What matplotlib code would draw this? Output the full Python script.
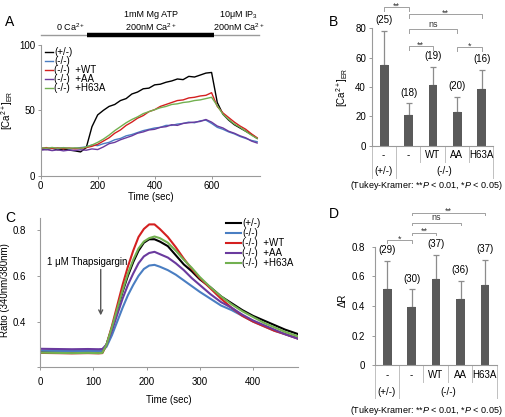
import matplotlib
matplotlib.use("Agg")
import matplotlib.pyplot as plt
import matplotlib.transforms as mtransforms

plt.rcParams["font.family"] = ["Liberation Sans", "DejaVu Sans"]
plt.rcParams["mathtext.fontset"] = "custom"
plt.rcParams["mathtext.rm"] = "Liberation Sans"
plt.rcParams["mathtext.it"] = "Liberation Sans:italic"
plt.rcParams["font.size"] = 7

# ---- panel A: ER calcium traces (sampled every 20 s) ----
time_a = list(range(0, 761, 20))
black_a = [20.5, 20.0, 21.0, 19.8, 20.4, 19.6, 19.0, 18.2, 21.5, 37.5,
           46.5, 50.0, 53.0, 54.5, 57.5, 59.0, 62.5, 64.0, 66.5, 67.0,
           69.5, 70.0, 71.5, 72.5, 74.0, 73.5, 76.0, 75.5, 77.0, 78.5,
           79.0, 56.0, 47.0, 42.5, 39.0, 36.5, 34.0, 31.5, 28.5]
blue_a = [21.0, 20.5, 21.2, 20.8, 21.5, 20.7, 21.0, 21.5, 22.0, 23.5,
          23.0, 24.5, 25.5, 27.5, 28.5, 30.5, 31.5, 33.0, 34.5, 35.5,
          36.5, 37.0, 38.5, 38.5, 39.5, 40.0, 41.0, 40.5, 42.0, 42.5,
          40.0, 37.0, 35.5, 33.5, 32.0, 30.0, 28.5, 27.0, 26.0]
red_a = [21.0, 21.5, 20.8, 21.3, 20.6, 21.2, 20.5, 21.0, 21.5, 22.5,
         24.0, 26.5, 29.0, 32.5, 35.0, 38.5, 41.0, 44.0, 46.0, 49.0,
         50.5, 53.0, 54.5, 56.0, 57.5, 58.0, 59.5, 60.0, 61.0, 61.5,
         63.5, 53.0, 48.0, 44.5, 41.0, 38.0, 35.5, 32.0, 29.0]
purple_a = [19.5, 20.0, 19.2, 19.8, 19.0, 19.6, 19.3, 19.8, 19.5, 20.5,
            20.0, 22.0, 24.5, 25.5, 27.5, 29.0, 30.5, 32.5, 33.5, 35.0,
            35.5, 37.0, 37.5, 39.0, 38.5, 40.0, 40.5, 41.0, 41.5, 43.0,
            41.0, 38.0, 36.5, 34.0, 32.5, 30.5, 29.0, 26.5, 25.0]
green_a = [21.5, 21.0, 21.6, 21.0, 21.4, 21.0, 21.3, 21.0, 22.0, 23.5,
           25.5, 28.0, 31.0, 34.5, 37.5, 40.5, 43.0, 45.0, 47.5, 49.0,
           50.5, 52.0, 53.0, 54.5, 55.0, 56.0, 56.5, 57.5, 58.0, 59.0,
           60.0, 53.5, 47.0, 43.0, 39.5, 37.0, 34.0, 31.0, 28.5]

# ---- panel C: Fura-2 ratio traces ----
time_c = [0, 30, 60, 90, 110, 117, 125, 135, 145, 155, 165, 175, 185, 195,
          205, 215, 225, 240, 255, 270, 285, 300, 320, 340, 360, 380, 400,
          420, 440, 460, 485]
black_c = [0.266, 0.265, 0.264, 0.265, 0.264, 0.265, 0.30, 0.37, 0.45, 0.53,
           0.60, 0.66, 0.71, 0.745, 0.76, 0.76, 0.75, 0.73, 0.69, 0.65,
           0.62, 0.585, 0.55, 0.51, 0.48, 0.45, 0.425, 0.405, 0.385, 0.365, 0.345]
blue_c = [0.273, 0.272, 0.271, 0.272, 0.271, 0.272, 0.29, 0.34, 0.40, 0.46,
          0.515, 0.56, 0.60, 0.63, 0.645, 0.648, 0.64, 0.625, 0.605, 0.58,
          0.555, 0.53, 0.50, 0.47, 0.45, 0.425, 0.40, 0.38, 0.36, 0.345, 0.325]
red_c = [0.263, 0.262, 0.261, 0.262, 0.261, 0.262, 0.30, 0.38, 0.47, 0.56,
         0.64, 0.71, 0.77, 0.805, 0.825, 0.825, 0.805, 0.77, 0.725, 0.675,
         0.63, 0.59, 0.545, 0.50, 0.46, 0.425, 0.40, 0.38, 0.36, 0.345, 0.325]
purple_c = [0.281, 0.280, 0.279, 0.280, 0.279, 0.280, 0.30, 0.36, 0.43, 0.50,
            0.56, 0.61, 0.655, 0.685, 0.70, 0.705, 0.695, 0.68, 0.655, 0.625,
            0.59, 0.56, 0.52, 0.485, 0.46, 0.43, 0.405, 0.385, 0.365, 0.345, 0.325]
green_c = [0.264, 0.263, 0.262, 0.263, 0.262, 0.263, 0.30, 0.375, 0.455, 0.535,
           0.61, 0.67, 0.72, 0.75, 0.765, 0.772, 0.765, 0.745, 0.71, 0.67,
           0.635, 0.595, 0.55, 0.51, 0.475, 0.445, 0.42, 0.395, 0.375, 0.355, 0.335]

series_labels = ["(+/-)", "(-/-)", "(-/-)  +WT", "(-/-)  +AA", "(-/-)  +H63A"]
series_colors = ["#000000", "#4a7ec2", "#d42020", "#6a3a9e", "#72b050"]

# ---- panels B and D: bar summaries ----
bar_labels = ["-", "-", "WT", "AA", "H63A"]
genotype_groups = [("(+/-)", 0, 1), ("(-/-)", 1, 5)]

ca_er_mean = [55.0, 20.7, 41.4, 23.2, 38.4]
ca_er_err = [23.4, 8.2, 12.5, 10.2, 13.2]
ca_er_n = [25, 18, 19, 20, 16]
ca_er_sig = [(0, 1, 94.3, "**"), (1, 4, 89.7, "**"), (1, 3, 79.3, "ns"),
             (1, 2, 67.9, "**"), (3, 4, 67.0, "*")]

dr_mean = [0.518, 0.390, 0.584, 0.444, 0.543]
dr_err = [0.187, 0.122, 0.160, 0.126, 0.167]
dr_n = [29, 30, 37, 36, 37]
dr_sig = [(1, 4, 1.03, "**"), (1, 3, 0.962, "ns"), (1, 2, 0.895, "**"),
          (0, 1, 0.845, "*")]

SPINE = "#9a9a9a"
BAR = "#5a5a5a"
W, H = 505, 417

fig = plt.figure(figsize=(W / 100, H / 100), dpi=100)


def px_axes(left, top, right, bottom):
    return fig.add_axes([left / W, 1 - bottom / H, (right - left) / W, (bottom - top) / H])


def style_axes(ax):
    for side in ["top", "right"]:
        ax.spines[side].set_visible(False)
    for side in ["left", "bottom"]:
        ax.spines[side].set_color(SPINE)
        ax.spines[side].set_linewidth(0.8)
    ax.tick_params(direction="out", length=2, width=0.7, color=SPINE, labelsize=7)


def bar_panel(ax, means, errs, counts, sigs, ymax, leg, yfmt, rows):
    style_axes(ax)
    x = [i + 0.52 for i in range(len(means))]
    ax.bar(x, means, width=0.36, color=BAR, zorder=2)
    ax.errorbar(x, means, yerr=[[0] * len(errs), errs], fmt="none",
                ecolor="#8c8c8c", elinewidth=0.9, capsize=2, capthick=0.9, zorder=1)
    for xi, m, e, n in zip(x, means, errs, counts):
        ax.annotate(f"({n})", (xi, m + e), xytext=(0, 4), textcoords="offset points",
                    ha="center", va="bottom", fontsize=7)
    for a, b, y, txt in sigs:
        ax.plot([x[a], x[a], x[b], x[b]], [y - leg, y, y, y - leg],
                color="#a0a0a0", lw=0.7, clip_on=False)
        dy = 1.8 if txt == "ns" else -1.0
        ax.annotate(txt, ((x[a] + x[b]) / 2, y), xytext=(0, dy), textcoords="offset points",
                    ha="center", va="baseline", fontsize=6.5, color="#333333",
                    annotation_clip=False)
    ax.set_xlim(0, 5)
    ax.set_ylim(0, ymax)
    ax.set_xticks([])
    ax.yaxis.set_major_formatter(plt.FuncFormatter(yfmt))

    # two-level category axis
    row1, row2, short, full = rows
    trans = mtransforms.blended_transform_factory(ax.transData, ax.transAxes)
    for i, lab in enumerate(bar_labels):
        ax.text(i + 0.5, row1, lab, transform=trans, ha="center", va="center", fontsize=7)
    for xd in range(6):
        low = full if xd in (0, 1, 5) else short
        ax.plot([xd, xd], [0, low], transform=trans, color="#c0c0c0", lw=0.7, clip_on=False)
    for lab, a, b in genotype_groups:
        ax.text((a + b) / 2, row2, lab, transform=trans, ha="center", va="center", fontsize=7)


# ---------- A ----------
ax_a = px_axes(40.7, 45, 260, 175.7)
style_axes(ax_a)
for y, lab, col in zip([black_a, blue_a, red_a, purple_a, green_a], series_labels, series_colors):
    ax_a.plot(time_a, y, color=col, lw=1.0, label=lab)
ax_a.set_xlim(0, 770)
ax_a.set_ylim(0, 100)
ax_a.set_xticks([0, 200, 400, 600])
ax_a.set_yticks([0, 50, 100])
ax_a.tick_params(pad=2)
ax_a.set_xlabel("Time (sec)", fontsize=7)
ax_a.xaxis.set_label_coords(0.5, -0.125)
ax_a.set_ylabel(r"$[\mathrm{Ca}^{2+}]_{\mathrm{ER}}$", fontsize=7)
ax_a.yaxis.set_label_coords(-0.115, 0.5)
ax_a.legend(loc="upper left", bbox_to_anchor=(0.02, 0.985), frameon=False, fontsize=7,
            handlelength=0.8, handletextpad=0.15, labelspacing=-0.1, borderaxespad=0,
            borderpad=0)

ta = mtransforms.blended_transform_factory(ax_a.transData, ax_a.transAxes)
ax_a.plot([0, 765], [1.077, 1.077], transform=ta, color=SPINE, lw=1.0, clip_on=False)
ax_a.plot([164, 610], [1.077, 1.077], transform=ta, color="black", lw=3.2,
          solid_capstyle="butt", clip_on=False)
ax_a.text(105, 1.14, r"0 Ca$^{2+}$", transform=ta, ha="center", va="center", fontsize=6.5)
ax_a.text(387, 1.23, "1mM Mg ATP", transform=ta, ha="center", va="center", fontsize=6.5)
ax_a.text(387, 1.14, r"200nM Ca$^{2+}$", transform=ta, ha="center", va="center", fontsize=6.5)
ax_a.text(695, 1.23, r"10μM IP$_3$", transform=ta, ha="center", va="center", fontsize=6.5)
ax_a.text(695, 1.14, r"200nM Ca$^{2+}$", transform=ta, ha="center", va="center", fontsize=6.5)

# ---------- B ----------
ax_b = px_axes(371.5, 28.3, 493.3, 145.7)
bar_panel(ax_b, ca_er_mean, ca_er_err, ca_er_n, ca_er_sig, 80, 2.5,
          lambda v, p: f"{v:.0f}", (-0.079, -0.215, -0.138, -0.275))
ax_b.set_yticks([0, 20, 40, 60, 80])
ax_b.tick_params(axis="y", pad=2)
ax_b.set_ylabel(r"$[\mathrm{Ca}^{2+}]_{\mathrm{ER}}$", fontsize=7)
ax_b.yaxis.set_label_coords(-0.175, 0.5)

# ---------- C ----------
ax_c = px_axes(40, 218, 298.3, 367.3)
style_axes(ax_c)
for y, lab, col in zip([black_c, blue_c, red_c, purple_c, green_c], series_labels, series_colors):
    ax_c.plot(time_c, y, color=col, lw=1.5, label=lab)
ax_c.set_xlim(0, 485)
ax_c.set_ylim(0.2, 0.853)
ax_c.set_xticks([0, 100, 200, 300, 400])
ax_c.set_yticks([0.2, 0.4, 0.6, 0.8])
ax_c.set_yticklabels(["", "0.4", "0.6", "0.8"])
ax_c.tick_params(axis="x", pad=5)
ax_c.tick_params(axis="y", pad=8)
ax_c.set_xlabel("Time (sec)", fontsize=7)
ax_c.xaxis.set_label_coords(0.5, -0.185)
ax_c.set_ylabel("Ratio (340nm/380nm)", fontsize=7)
ax_c.yaxis.set_label_coords(-0.118, 0.52)
ax_c.legend(loc="upper left", bbox_to_anchor=(0.72, 1.0), frameon=False, fontsize=7,
            handlelength=1.55, handletextpad=0.1, labelspacing=0.0, borderaxespad=0,
            borderpad=0)
ax_c.annotate("", xy=(114, 0.415), xytext=(114, 0.64),
              arrowprops=dict(arrowstyle="->", color="#555555", lw=1.0))
ax_c.text(88, 0.66, "1 μM Thapsigargin", ha="center", va="center", fontsize=7)

# ---------- D ----------
ax_d = px_axes(374.5, 246.7, 496.7, 365.3)
bar_panel(ax_d, dr_mean, dr_err, dr_n, dr_sig, 0.8, 0.018,
          lambda v, p: "0" if v == 0 else f"{v:.1f}", (-0.082, -0.222, -0.138, -0.276))
ax_d.set_yticks([0, 0.2, 0.4, 0.6, 0.8])
ax_d.tick_params(axis="y", pad=5)
ax_d.set_ylabel("ΔR", fontsize=7)
ax_d.yaxis.set_label_coords(-0.215, 0.55)

# panel letters and footnotes
for lab, (px, py) in zip("ABCD", [(10, 22), (334, 22), (10, 218), (334, 214)]):
    fig.text(px / W, 1 - py / H, lab, fontsize=10, ha="center", va="center")
note = r"(Tukey-Kramer: **$P$ < 0.01, *$P$ < 0.05)"
fig.text(426.7 / W, 1 - 186 / H, note, fontsize=6.5, ha="center", va="center")
fig.text(426.7 / W, 1 - 410.5 / H, note, fontsize=6.5, ha="center", va="center")

fig.savefig("out.png", dpi=100, facecolor="white")
